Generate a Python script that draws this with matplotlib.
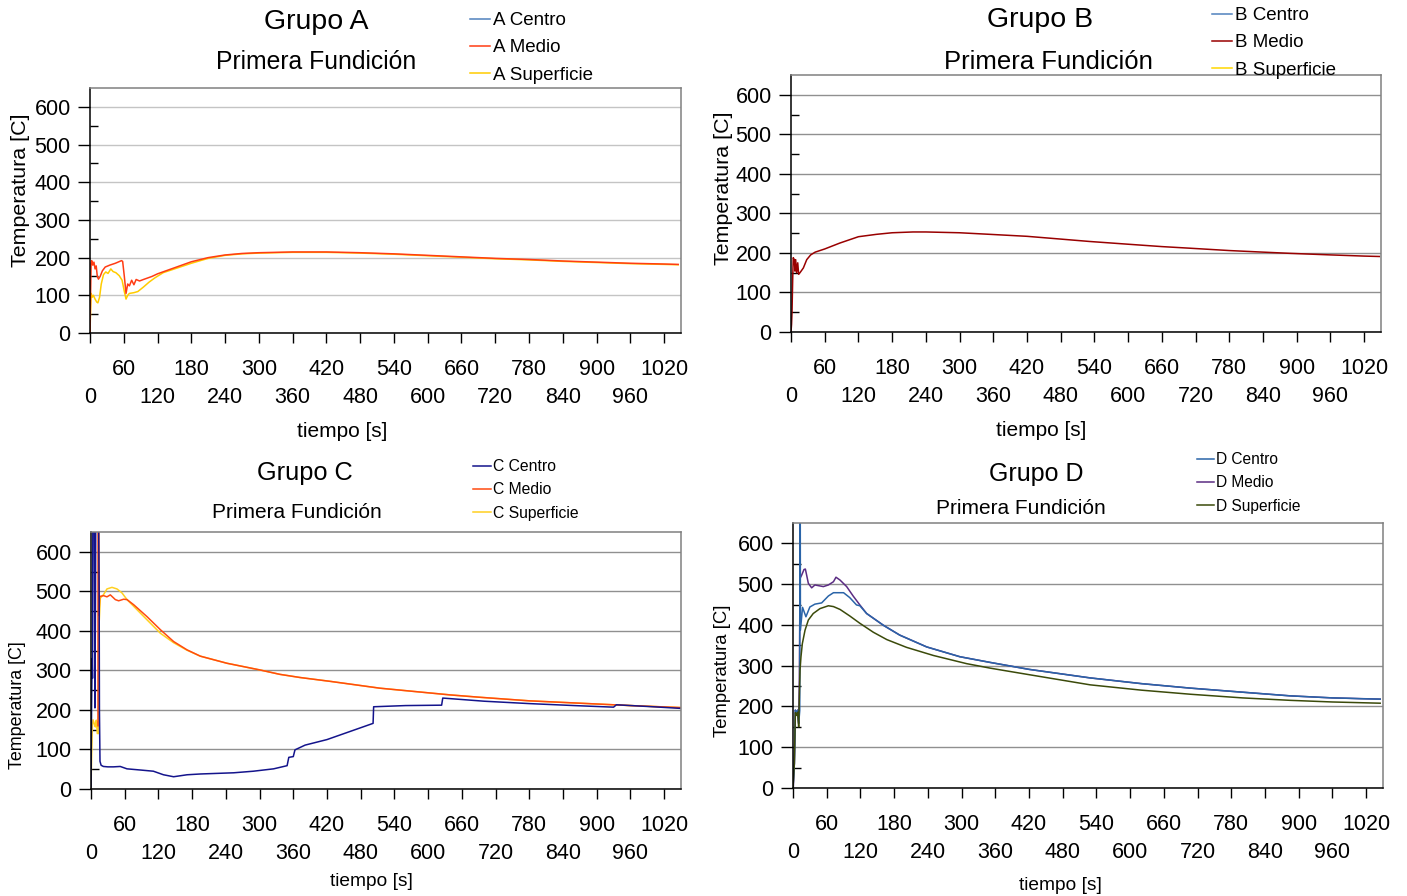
import matplotlib
matplotlib.use("Agg")
import matplotlib.pyplot as plt

plt.rcParams["font.family"] = ["Liberation Sans", "DejaVu Sans"]

A_t_medio = [0, 1, 2, 3, 5, 7, 9, 11, 13, 15, 18, 22, 27, 35, 45, 56, 58, 61, 64, 67,
             70, 74, 78, 82, 88, 95, 110, 120, 150, 180, 210, 240, 270, 300, 360, 420,
             480, 540, 600, 660, 720, 780, 840, 900, 960, 1020, 1045]
A_medio = [0, 100, 185, 192, 180, 188, 170, 178, 150, 143, 150, 165, 175, 180, 185, 192, 190,
           150, 105, 130, 125, 140, 128, 142, 138, 142, 150, 157, 173, 189, 200, 207, 211,
           213, 215, 215, 213, 210, 206, 202, 198, 195, 191, 188, 185, 183, 182]
A_t_sup = [0, 1, 2, 4, 6, 9, 12, 14, 17, 20, 24, 28, 32, 37, 41, 46, 52, 57, 61, 64,
           67, 70, 78, 85, 95, 105, 115, 130, 150, 180, 210, 240, 270, 300, 360, 420,
           480, 540, 600, 660, 720, 780, 840, 900, 960, 1020, 1045]
A_sup = [0, 60, 105, 95, 100, 90, 82, 80, 95, 130, 155, 162, 158, 170, 163, 160, 152, 140,
         110, 90, 100, 105, 107, 110, 122, 135, 146, 160, 170, 185, 198, 206, 210, 212,
         214, 214, 212, 209, 205, 201, 197, 194, 190, 187, 184, 182, 181]

B_t_medio = [0, 1, 1.8, 3, 4, 6, 7, 8.3, 10, 12, 13.6, 16, 22, 28, 35, 43, 60, 87, 120,
             152, 180, 217, 240, 300, 354, 420, 480, 531, 600, 660, 709, 780, 840, 887,
             960, 1020, 1047]
B_medio = [0, 20, 50, 133, 188, 183, 154, 183, 150, 175, 146, 150, 162, 183, 195, 202, 210,
           225, 241, 247, 251, 253, 253, 251, 247, 242, 235, 229, 222, 216, 212, 206, 202,
           199, 195, 192, 191]

C_t_centro = [0, 1, 2, 2.7, 3.3, 4.5, 6, 7, 8, 9, 12, 14, 14.5, 15, 16, 18, 22, 30, 40, 52,
              64, 88, 111, 129, 147, 171, 195, 254, 289, 325, 349, 352, 360, 363, 381, 420,
              460, 502, 503, 560, 624, 626, 700, 780, 860, 930, 935, 1000, 1048]
C_centro = [5, 200, 330, 280, 700, 900, 650, 205, 500, 900, 900, 600, 500, 200, 70, 60, 57,
            56, 56, 57, 51, 48, 45, 36, 31, 36, 38, 41, 45, 51, 59, 80, 82, 99, 111, 125,
            145, 166, 208, 211, 212, 230, 222, 216, 211, 207, 213, 208, 204]
C_t_medio = [12.4, 12.6, 13.8, 14.2, 15.4, 22.5, 28.4, 34.4, 43.3, 49.2, 58.1, 64.1, 76,
             99.6, 123.4, 147, 170.8, 194.5, 242, 301, 336, 372, 427, 514, 639, 692, 780,
             870, 960, 1048]
C_medio = [160, 900, 900, 440, 487, 489, 486, 491, 479, 476, 480, 479, 466, 436, 403, 373,
           352, 336, 318, 301, 290, 282, 272, 255, 238, 232, 223, 217, 211, 206]
C_t_sup = [0, 1.2, 2.4, 3.6, 5.9, 7.7, 9.5, 11.3, 12.5, 13.7, 14.5, 16.6, 22.5, 28.4, 37.3,
           46.2, 55.1, 64.1, 76, 99.6, 123.4, 147, 170.8, 194.5, 242, 301, 336, 372, 427,
           514, 639, 692, 780, 870, 960, 1048]
C_sup = [0, 89, 157, 175, 165, 157, 174, 140, 170, 140, 420, 483, 492, 506, 510, 506, 496,
         479, 462, 428, 394, 370, 351, 336, 318, 301, 290, 282, 272, 255, 238, 232, 223,
         217, 211, 206]

D_t_centro = [0, 2.4, 4.2, 6.5, 8.3, 10.1, 12.0, 12.3, 12.8, 13.2, 17, 23, 30, 39, 51, 63, 72,
              90, 101, 113, 119, 131, 161, 190, 238, 297, 351, 420, 529, 620, 707, 800, 885,
              960, 990, 1010, 1045]
D_centro = [0, 60, 191, 182, 191, 158, 190, 800, 800, 387, 443, 420, 444, 451, 454, 471, 479,
            479, 467, 449, 447, 428, 399, 375, 346, 322, 308, 291, 270, 256, 245, 235, 226,
            221, 220, 219, 218]
D_t_medio = [0, 0.6, 2.4, 4.2, 6.5, 8.3, 10.1, 11.3, 12.5, 15.4, 19.6, 22, 24.3, 27.3, 33.2,
             39, 54, 63, 72, 76.5, 83.7, 95.5, 107, 119, 131, 161, 190, 238, 297, 351, 420,
             529, 620, 707, 800, 885, 960, 1045]
D_medio = [0, 2, 60, 191, 182, 191, 158, 273, 514, 522, 536, 537, 522, 502, 491, 498, 494,
           498, 506, 517, 510, 494, 471, 449, 428, 399, 375, 346, 322, 308, 291, 270, 256,
           245, 235, 226, 221, 218]
D_t_sup = [0, 2.4, 4.2, 6.5, 8.3, 10.1, 11.3, 12.5, 14.2, 16.6, 21.4, 27.3, 36, 48, 63, 72,
           83.7, 101, 119, 143, 167, 202, 250, 309, 351, 368, 420, 529, 620, 707, 800, 885,
           960, 1045]
D_sup = [0, 60, 185, 178, 186, 150, 223, 289, 322, 354, 387, 412, 428, 440, 447, 445, 438,
         422, 404, 382, 364, 345, 325, 305, 294, 290, 278, 253, 240, 230, 221, 215, 211, 208]

X_TOP = [60, 180, 300, 420, 540, 660, 780, 900, 1020]
X_LOW = [0, 120, 240, 360, 480, 600, 720, 840, 960]
Y_MAJOR = [0, 100, 200, 300, 400, 500, 600]
Y_MINOR = [50, 150, 250, 350, 450, 550]

FIG_W, FIG_H = 1407, 896


def fx(px):
    return px / FIG_W


def fy(py):
    return 1 - py / FIG_H


def style_axes(ax, grid_color):
    ax.set_xlim(0, 1050)
    ax.set_ylim(0, 650)
    ax.set_xticks(X_TOP, [str(v) for v in X_TOP])
    ax.set_xticks(X_LOW, [str(v) for v in X_LOW], minor=True)
    ax.set_yticks(Y_MAJOR)
    ax.set_yticks(Y_MINOR, minor=True)
    ax.tick_params(axis="x", which="both", direction="out", length=7, width=1,
                   labelsize=15.5)
    ax.tick_params(axis="x", which="major", pad=11.5)
    ax.tick_params(axis="x", which="minor", pad=31.7)
    ax.tick_params(axis="y", which="major", direction="out", length=8.6, width=1,
                   pad=5.3, labelsize=15.5)
    ax.tick_params(axis="y", which="minor", direction="in", length=6, width=1)
    ax.yaxis.grid(True, which="major", color=grid_color, lw=1)
    ax.set_axisbelow(True)
    for side in ("left", "bottom"):
        ax.spines[side].set_color("black")
    for side in ("top", "right"):
        ax.spines[side].set_color("#808080")
    for sp in ax.spines.values():
        sp.set_linewidth(1.1)


fig = plt.figure(figsize=(FIG_W / 100, FIG_H / 100), dpi=100)

panels = [
    dict(rect=(90, 88, 681, 333), grid="#c4c4c4", name="A",
         series=[("A Centro", [], [], "#4f81bd"),
                 ("A Medio", A_t_medio, A_medio, "#ff3c14"),
                 ("A Superficie", A_t_sup, A_sup, "#ffcc00")],
         order=[0, 2, 1],
         title=(316, 22, 20.5), sub=(316, 62, 17.8),
         leg=(470, 12, 13.5, 0.54, 1.07),
         ylab=(-0.102, 0.584, 15.4), xlab=(0.426, -0.363, 15)),
    dict(rect=(791, 75, 1381, 332), grid="#909090", name="B",
         series=[("B Centro", [], [], "#4f81bd"),
                 ("B Medio", B_t_medio, B_medio, "#990000"),
                 ("B Superficie", [], [], "#ffd700")],
         order=[0, 2, 1],
         title=(1040, 20, 20.5), sub=(1048, 62, 18.5),
         leg=(1212, 7, 13.5, 0.54, 1.07),
         ylab=(-0.098, 0.558, 15.4), xlab=(0.424, -0.346, 15)),
    dict(rect=(91, 532, 681, 789), grid="#909090", name="C",
         series=[("C Centro", C_t_centro, C_centro, "#14148c"),
                 ("C Medio", C_t_medio, C_medio, "#ff4a10"),
                 ("C Superficie", C_t_sup, C_sup, "#ffd020")],
         order=[2, 1, 0],
         title=(305, 473, 18.3), sub=(297, 512, 15),
         leg=(473, 459, 11.3, 0.54, 1.15),
         ylab=(-0.110, 0.327, 12.9), xlab=(0.476, -0.327, 13.8)),
    dict(rect=(793, 523, 1383, 788), grid="#909090", name="D",
         series=[("D Centro", D_t_centro, D_centro, "#2a64a8"),
                 ("D Medio", D_t_medio, D_medio, "#5b2c83"),
                 ("D Superficie", D_t_sup, D_sup, "#3b4a0a")],
         order=[1, 0, 2],
         title=(1036, 474, 18), sub=(1021, 508, 15),
         leg=(1197, 452, 11.2, 0.54, 1.1),
         ylab=(-0.105, 0.443, 13.3), xlab=(0.4525, -0.336, 13.8)),
]

for p in panels:
    x0, y0, x1, y1 = p["rect"]
    ax = fig.add_axes([fx(x0), fy(y1), (x1 - x0) / FIG_W, (y1 - y0) / FIG_H])
    style_axes(ax, p["grid"])

    lines = {}
    for i in p["order"]:
        label, t, temp, color = p["series"][i]
        (lines[i],) = ax.plot(t, temp, color=color, lw=1.1, label=label)
    handles = [lines[i] for i in range(3)]

    ax.set_ylabel("Temperatura [C]", fontsize=p["ylab"][2])
    ax.yaxis.set_label_coords(p["ylab"][0], p["ylab"][1])
    ax.set_xlabel("tiempo [s]", fontsize=p["xlab"][2])
    ax.xaxis.set_label_coords(p["xlab"][0], p["xlab"][1])

    tx, ty, ts = p["title"]
    fig.text(fx(tx), fy(ty), f"Grupo {p['name']}", fontsize=ts, ha="center", va="center")
    sx, sy, ss = p["sub"]
    fig.text(fx(sx), fy(sy), "Primera Fundición", fontsize=ss, ha="center", va="center")

    lx, ly, lsize, lspace, hlen = p["leg"]
    ax.legend(handles, [h.get_label() for h in handles], loc="upper left",
              bbox_to_anchor=(fx(lx), fy(ly)), bbox_transform=fig.transFigure,
              frameon=False, fontsize=lsize, handlelength=hlen, handletextpad=0.15,
              labelspacing=lspace, borderpad=0, borderaxespad=0)

fig.savefig("out.png", dpi=100)
